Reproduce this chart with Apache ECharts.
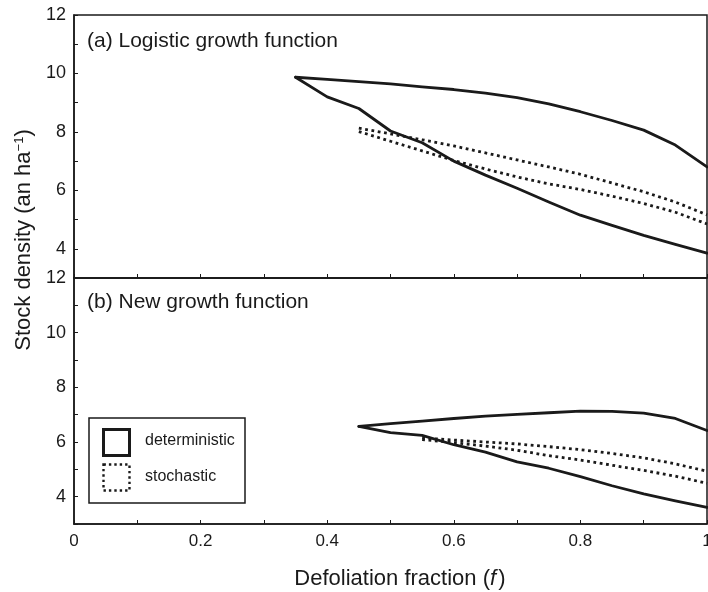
<!DOCTYPE html>
<html>
<head>
<meta charset="utf-8">
<script src="https://cdn.jsdelivr.net/npm/echarts@6/dist/echarts.min.js"></script>
<style>
  html, body { margin: 0; padding: 0; background: #fff; }
  #chart { width: 708px; height: 592px; }
</style>
</head>
<body>
<div id="chart"></div>
<script>
// (a) Logistic growth function
const fDetA      = [0.35, 0.40, 0.45, 0.50, 0.55, 0.60, 0.65, 0.70, 0.75, 0.80, 0.85, 0.90, 0.95, 1.00];
const detUpperA  = [9.87, 9.80, 9.72, 9.64, 9.54, 9.45, 9.33, 9.17, 8.96, 8.69, 8.39, 8.06, 7.55, 6.80];
const detLowerA  = [9.87, 9.20, 8.80, 8.03, 7.63, 7.00, 6.52, 6.07, 5.60, 5.15, 4.80, 4.46, 4.15, 3.85];
const fStoA      = [0.45, 0.50, 0.55, 0.60, 0.65, 0.70, 0.75, 0.80, 0.85, 0.90, 0.95, 1.00];
const stoUpperA  = [8.13, 7.93, 7.73, 7.52, 7.28, 7.04, 6.80, 6.55, 6.25, 5.95, 5.60, 5.16];
const stoLowerA  = [8.01, 7.68, 7.35, 7.02, 6.73, 6.46, 6.22, 6.03, 5.80, 5.55, 5.25, 4.85];

// (b) New growth function
const fDetB      = [0.45, 0.50, 0.55, 0.60, 0.65, 0.70, 0.75, 0.80, 0.85, 0.90, 0.95, 1.00];
const detUpperB  = [6.57, 6.67, 6.76, 6.86, 6.95, 7.01, 7.07, 7.13, 7.12, 7.06, 6.86, 6.42];
const detLowerB  = [6.57, 6.34, 6.24, 5.90, 5.63, 5.27, 5.04, 4.73, 4.40, 4.10, 3.85, 3.61];
const fStoB      = [0.55, 0.60, 0.65, 0.70, 0.75, 0.80, 0.85, 0.90, 0.95, 1.00];
const stoUpperB  = [6.15, 6.07, 6.00, 5.93, 5.83, 5.72, 5.58, 5.42, 5.20, 4.93];
const stoLowerB  = [6.09, 5.98, 5.85, 5.70, 5.50, 5.34, 5.15, 4.96, 4.75, 4.49];

// Axis labels
const xTickLabels = [0, 0.2, 0.4, 0.6, 0.8, 1];
const yTickLabels = [4, 6, 8, 10, 12];

const INK = '#1a1a1a';
const FONT = '"Liberation Sans", Arial, Helvetica, sans-serif';

const pairs = (xs, ys) => xs.map((x, i) => [x, ys[i]]);

const solid = { color: INK, width: 2.8, type: 'solid', cap: 'round', join: 'round' };
const dotted = { color: INK, width: 2.8, type: [2.8, 3.6], cap: 'butt' };

function line(name, gridIdx, xs, ys, style) {
  return {
    name, type: 'line', xAxisIndex: gridIdx, yAxisIndex: gridIdx,
    data: pairs(xs, ys), showSymbol: false, symbol: 'none',
    lineStyle: style, silent: true, animation: false, z: 3
  };
}

function xAxisFor(gridIdx, showLabels) {
  return {
    type: 'value', gridIndex: gridIdx, min: 0, max: 1, interval: 0.1,
    axisLine: { show: true, lineStyle: { color: INK, width: 1.5 } },
    axisTick: { show: true, inside: true, length: 4, lineStyle: { color: INK, width: 1 } },
    splitLine: { show: false },
    axisLabel: {
      show: showLabels, color: INK, fontSize: 17, fontFamily: FONT, margin: 9,
      hideOverlap: false,
      formatter: v => {
        const t = Math.round(v * 10);
        return xTickLabels.some(l => Math.round(l * 10) === t) ? String(+v.toFixed(1)) : '';
      }
    }
  };
}

function yAxisFor(gridIdx) {
  return {
    type: 'value', gridIndex: gridIdx, min: 3, max: 12, interval: 1,
    axisLine: { show: true, lineStyle: { color: INK, width: 1.5 } },
    axisTick: { show: true, inside: true, length: 4, lineStyle: { color: INK, width: 1 } },
    splitLine: { show: false },
    axisLabel: {
      color: INK, fontSize: 18, fontFamily: FONT, margin: 8,
      formatter: v => (yTickLabels.includes(v) ? String(v) : '')
    }
  };
}

const chart = echarts.init(document.getElementById('chart'), null, { renderer: 'canvas' });

const gridBase = {
  left: 74, width: 633, show: true, borderColor: INK, borderWidth: 1.5,
  backgroundColor: 'transparent', containLabel: false, outerBoundsMode: 'none'
};

chart.setOption({
  animation: false,
  backgroundColor: '#fff',
  textStyle: { fontFamily: FONT },
  grid: [
    Object.assign({}, gridBase, { top: 15, height: 263 }),
    Object.assign({}, gridBase, { top: 278, height: 246 })
  ],
  xAxis: [xAxisFor(0, false), xAxisFor(1, true)],
  yAxis: [yAxisFor(0), yAxisFor(1)],
  series: [
    line('deterministic', 0, fDetA, detUpperA, solid),
    line('deterministic', 0, fDetA, detLowerA, solid),
    line('stochastic', 0, fStoA, stoUpperA, dotted),
    line('stochastic', 0, fStoA, stoLowerA, dotted),
    line('deterministic', 1, fDetB, detUpperB, solid),
    line('deterministic', 1, fDetB, detLowerB, solid),
    line('stochastic', 1, fStoB, stoUpperB, dotted),
    line('stochastic', 1, fStoB, stoLowerB, dotted)
  ],
  graphic: [
    // panel titles
    { type: 'text', left: 87, top: 31, z: 10,
      style: { text: '(a) Logistic growth function', fill: INK, font: '21px ' + FONT } },
    { type: 'text', left: 87, top: 292, z: 10,
      style: { text: '(b) New growth function', fill: INK, font: '21px ' + FONT } },
    // y-axis title
    { type: 'text', x: 24, y: 240, rotation: Math.PI / 2, z: 10,
      style: {
        text: 'Stock density (an ha{sup|−1})', fill: INK, font: '22px ' + FONT,
        align: 'center', verticalAlign: 'middle',
        rich: { sup: { fontSize: 13, fontFamily: FONT, fill: INK, verticalAlign: 'top', padding: [0, 0, 10, 0] } }
      } },
    // x-axis title
    { type: 'text', x: 400, y: 579, z: 10,
      style: {
        text: 'Defoliation fraction ({it|f}{sp| })', fill: INK, font: '22px ' + FONT,
        align: 'center', verticalAlign: 'middle',
        rich: { it: { fontSize: 22, fontStyle: 'italic', fontFamily: FONT, fill: INK }, sp: { fontSize: 8 } }
      } },
    // legend box
    { type: 'rect', z: 10, shape: { x: 89, y: 418, width: 156, height: 85 },
      style: { fill: '#fff', stroke: INK, lineWidth: 1.5 } },
    { type: 'rect', z: 11, shape: { x: 103.5, y: 429.5, width: 26, height: 26 },
      style: { fill: 'none', stroke: INK, lineWidth: 3 } },
    { type: 'rect', z: 11, shape: { x: 103.5, y: 464.5, width: 26, height: 26 },
      style: { fill: 'none', stroke: INK, lineWidth: 2.4, lineDash: [2.4, 3.0] } },
    { type: 'text', z: 11, x: 145, y: 441,
      style: { text: 'deterministic', fill: INK, font: '16px ' + FONT, verticalAlign: 'middle' } },
    { type: 'text', z: 11, x: 145, y: 477,
      style: { text: 'stochastic', fill: INK, font: '16px ' + FONT, verticalAlign: 'middle' } }
  ]
});
</script>
</body>
</html>
